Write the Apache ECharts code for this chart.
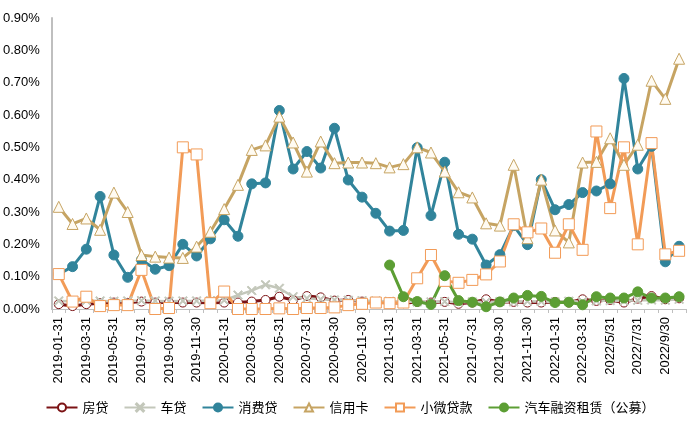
<!DOCTYPE html>
<html>
<head>
<meta charset="utf-8">
<script src="https://cdn.jsdelivr.net/npm/echarts@6/dist/echarts.min.js"></script>
<style>
  html, body { margin: 0; padding: 0; background: #fff; }
  #chart { width: 700px; height: 425px; }
</style>
</head>
<body>
<div id="chart"></div>
<script>
// 月末日期
var months = [
  '2019-01-31', '2019-02-28', '2019-03-31', '2019-04-30', '2019-05-31', '2019-06-30',
  '2019-07-31', '2019-08-31', '2019-09-30', '2019-10-31', '2019-11-30', '2019-12-31',
  '2020-01-31', '2020-02-29', '2020-03-31', '2020-04-30', '2020-05-31', '2020-06-30',
  '2020-07-31', '2020-08-31', '2020-09-30', '2020-10-31', '2020-11-30', '2020-12-31',
  '2021-01-31', '2021-02-28', '2021-03-31', '2021-04-30', '2021-05-31', '2021-06-30',
  '2021-07-31', '2021-08-31', '2021-09-30', '2021-10-31', '2021-11-30', '2021-12-31',
  '2022-01-31', '2022-02-28', '2022-03-31', '2022/4/30', '2022/5/31', '2022/6/30',
  '2022/7/31', '2022/8/31', '2022/9/30', '2022/10/31'
];

// 各类资产（单位：%）
var mortgage = [0.015, 0.009, 0.015, 0.018, 0.020, 0.019, 0.023, 0.020, 0.020, 0.020, 0.020, 0.019,
  0.020, 0.020, 0.023, 0.028, 0.038, 0.028, 0.040, 0.036, 0.026, 0.028, 0.023, 0.020,
  0.020, 0.018, 0.022, 0.020, 0.022, 0.016, 0.020, 0.030, 0.022, 0.022, 0.020, 0.020,
  0.022, 0.020, 0.030, 0.025, 0.028, 0.020, 0.032, 0.040, 0.030, 0.033];

var carLoan = [0.025, 0.024, 0.026, 0.025, 0.024, 0.025, 0.026, 0.025, 0.024, 0.025, 0.025, 0.026,
  0.027, 0.043, 0.057, 0.075, 0.064, 0.038, 0.033, 0.030, 0.028, 0.027, 0.026, 0.025,
  0.024, 0.023, 0.022, 0.022, 0.023, 0.021, 0.022, 0.022, 0.023, 0.022, 0.024, 0.023,
  0.022, 0.024, 0.023, 0.025, 0.026, 0.025, 0.027, 0.028, 0.027, 0.030];

var consumer = [0.108, 0.131, 0.185, 0.348, 0.167, 0.098, 0.152, 0.123, 0.134, 0.200, 0.164, 0.217,
  0.276, 0.225, 0.387, 0.390, 0.614, 0.433, 0.487, 0.436, 0.559, 0.399, 0.346, 0.296,
  0.241, 0.243, 0.499, 0.289, 0.454, 0.231, 0.216, 0.136, 0.168, 0.258, 0.199, 0.400,
  0.307, 0.323, 0.360, 0.365, 0.387, 0.713, 0.433, 0.503, 0.146, 0.194];

var creditCard = [0.316, 0.263, 0.280, 0.245, 0.360, 0.300, 0.167, 0.162, 0.159, 0.158, 0.193, 0.239,
  0.309, 0.384, 0.492, 0.506, 0.595, 0.515, 0.425, 0.518, 0.451, 0.453, 0.453, 0.451,
  0.438, 0.448, 0.500, 0.484, 0.425, 0.361, 0.345, 0.265, 0.258, 0.446, 0.219, 0.400,
  0.243, 0.206, 0.453, 0.455, 0.528, 0.446, 0.508, 0.706, 0.650, 0.774];

var microLoan = [0.108, 0.023, 0.038, 0.009, 0.012, 0.012, 0.121, 0.000, 0.003, 0.500, 0.478, 0.018,
  0.054, 0.000, 0.000, 0.000, 0.002, 0.000, 0.003, 0.003, 0.005, 0.012, 0.016, 0.020,
  0.018, 0.020, 0.095, 0.167, 0.087, 0.081, 0.090, 0.107, 0.147, 0.262, 0.237, 0.249,
  0.174, 0.262, 0.183, 0.549, 0.312, 0.500, 0.200, 0.513, 0.169, 0.180];

var carLeasing = [null, null, null, null, null, null, null, null, null, null, null, null,
  null, null, null, null, null, null, null, null, null, null, null, null,
  0.136, 0.038, 0.023, 0.014, 0.103, 0.026, 0.021, 0.007, 0.022, 0.034, 0.042, 0.039,
  0.020, 0.021, 0.013, 0.038, 0.034, 0.034, 0.053, 0.034, 0.034, 0.038];

var yTicks = { min: 0, max: 0.9, interval: 0.1 };

var crossPath = 'path://M0,1L1,0L5,4L9,0L10,1L6,5L10,9L9,10L5,6L1,10L0,9L4,5Z';

function lineSeries (name, data, color, symbol, size, fill, width) {
  return {
    name: name,
    type: 'line',
    data: data,
    symbol: symbol,
    symbolSize: size,
    showAllSymbol: true,
    connectNulls: false,
    lineStyle: { color: color, width: width || 3 },
    itemStyle: { color: fill, borderColor: color, borderWidth: 1 },
    emphasis: { disabled: true }
  };
}

var chart = echarts.init(document.getElementById('chart'));
var option = {
  animation: false,
  textStyle: { fontFamily: 'Liberation Sans, Arial, Noto Sans CJK SC, sans-serif' },
  grid: { left: 51, right: 14, top: 18, bottom: 116 },
  legend: {
    left: 'center',
    top: 396,
    itemWidth: 31,
    itemHeight: 10,
    itemGap: 15,
    textStyle: { fontSize: 13, color: '#000', fontFamily: 'Noto Sans CJK SC, sans-serif' },
    data: ['房贷', '车贷', '消费贷', '信用卡', '小微贷款', '汽车融资租赁（公募）']
  },
  xAxis: {
    type: 'category',
    data: months,
    boundaryGap: true,
    axisLine: { lineStyle: { color: '#BFBFBF', width: 1 } },
    axisTick: { show: true, interval: 0, length: 4, lineStyle: { color: '#BFBFBF' } },
    axisLabel: { interval: 1, rotate: 90, fontSize: 13, color: '#000', margin: 8 }
  },
  yAxis: {
    type: 'value',
    min: yTicks.min,
    max: yTicks.max,
    interval: yTicks.interval,
    axisLine: { show: true, lineStyle: { color: '#BFBFBF', width: 2 } },
    axisTick: { show: false },
    splitLine: { show: false },
    axisLabel: {
      fontSize: 13, color: '#000', margin: 12,
      formatter: function (v) { return v.toFixed(2) + '%'; }
    }
  },
  series: [
    lineSeries('房贷', mortgage, '#7B1214', 'circle', 9, '#fff', 3),
    lineSeries('车贷', carLoan, '#C3C7BA', crossPath, 9, '#C3C7BA', 2.5),
    lineSeries('消费贷', consumer, '#31849B', 'circle', 10, '#31849B', 3),
    lineSeries('信用卡', creditCard, '#C6A463', 'triangle', 11, '#FFFBF2', 3),
    lineSeries('小微贷款', microLoan, '#F29B57', 'rect', 11, '#fff', 3),
    lineSeries('汽车融资租赁（公募）', carLeasing, '#5C9E34', 'circle', 10, '#5C9E34', 3)
  ]
};
chart.setOption(option);
</script>
</body>
</html>
